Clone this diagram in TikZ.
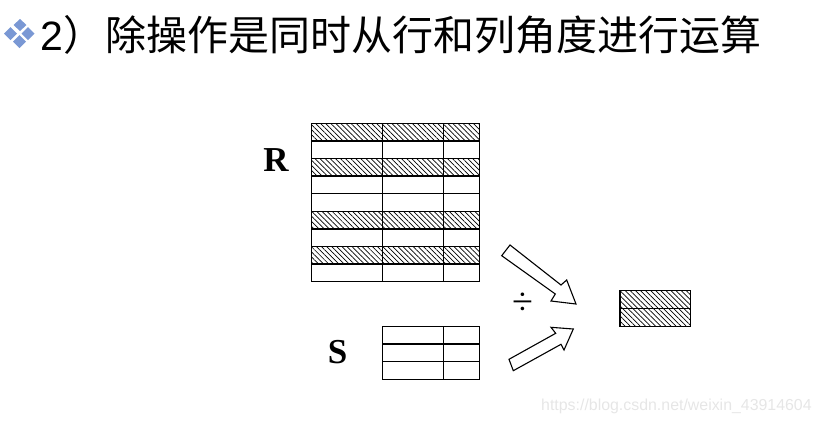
\documentclass[tikz,border=0pt]{standalone}
\usepackage{fontspec}
\setmainfont{Liberation Serif}
\newfontfamily\cjkfont{Noto Sans CJK SC}
\newfontfamily\arialfont{Liberation Sans}
\usetikzlibrary{patterns.meta}
\definecolor{iconblue}{RGB}{122,152,212}
\definecolor{wmgray}{RGB}{230,230,230}
\tikzset{
  grid line/.style={line width=1.4pt, line cap=rect},
  hatch/.style={pattern={Lines[angle=-45,distance=3.6pt,line width=0.7pt]}},
  fat arrow/.style={draw=black, line width=1.1pt, fill=white, line join=miter},
  gem/.style={fill=iconblue},
  label letter/.style={font=\fontsize{35}{35}\selectfont\bfseries, inner sep=0pt},
}
\begin{document}
\begin{tikzpicture}[x=1pt,y=-1pt]
\useasboundingbox (0,0) rectangle (822,424);
% title icon
\fill[gem] (20,19) -- (26.5,25) -- (20,31) -- (13.5,25) -- cycle;
\fill[gem] (10.5,27) -- (17,33.5) -- (10.5,40) -- (4,33.5) -- cycle;
\fill[gem] (28,27) -- (34.5,33.5) -- (28,40) -- (21.5,33.5) -- cycle;
\fill[gem] (19.5,35) -- (26,41.5) -- (19.5,48) -- (13,41.5) -- cycle;
\node[anchor=base west, inner sep=0pt] (title) at (40,50)
  {\fontsize{41}{41}\selectfont\arialfont 2\cjkfont ）\hspace{2pt}除操作是同时从行和列角度进行运算};
% R table
\foreach \i in {0,2,5,7} {
  \fill[hatch] (311.3,{123.3+\i*17.6}) rectangle (479.3,{123.3+(\i+1)*17.6});
}
\foreach \i in {0,...,9} {
  \draw[grid line] (311.3,{123.3+\i*17.6}) -- (479.3,{123.3+\i*17.6});
}
\foreach \x in {311.3,382.3,443.7,479.3} {
  \draw[grid line] (\x,123.3) -- (\x,281.7);
}
\node[label letter] (R) at (276,160) {R};
% S table
\foreach \y in {326.3,343.9,361.6,379.3} {
  \draw[grid line] (382.3,\y) -- (479.3,\y);
}
\foreach \x in {382.3,443.7,479.3} {
  \draw[grid line] (\x,326.3) -- (\x,379.3);
}
\node[label letter] (S) at (337.5,352) {S};
% divide sign
\node[inner sep=0pt, font=\fontsize{38}{38}\selectfont] (div) at (522.7,303.3) {÷};
% arrows
\draw[fat arrow] (510,245) -- (561,285) -- (566.7,280) -- (576,304) -- (551,301) -- (555.3,294) -- (501.7,255.7) -- cycle;
\draw[fat arrow] (509,359.3) -- (555.7,333.3) -- (551,327.3) -- (573.3,329) -- (564,350) -- (561,344.3) -- (513.3,370.7) -- cycle;
% result
\fill[hatch] (620,290.3) rectangle (690.3,326.3);
\draw[grid line] (620,290.3) rectangle (690.3,326.3);
\draw[grid line] (620,308.3) -- (690.3,308.3);
% watermark
\node[anchor=west, inner sep=0pt, text=wmgray, font=\arialfont\fontsize{15.9}{15.9}\selectfont] (wm) at (541,406) {https://blog.csdn.net/weixin\_43914604};
\end{tikzpicture}
\end{document}
